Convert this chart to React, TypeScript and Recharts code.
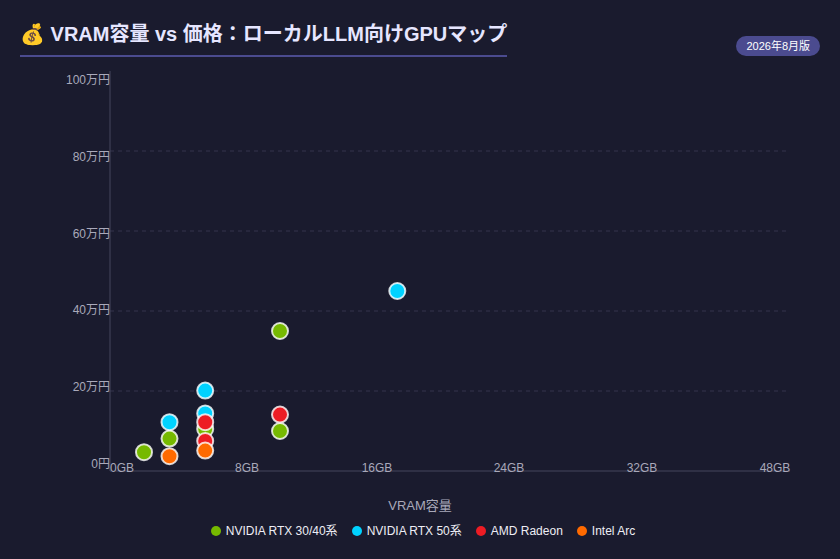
import { ScatterChart, Scatter, CartesianGrid, XAxis, YAxis, Legend } from "recharts";

// x = position on the VRAM axis (label slots are 8 units apart), y = price in 万円
const rtx3040Vram = [2.0, 3.5, 5.6, 10, 10];
const rtx3040Price = [4.7, 8.1, 10.5, 35, 10];
const rtx50Vram = [3.5, 5.6, 5.6, 16.9];
const rtx50Price = [12.2, 20.1, 14.4, 45];
const radeonVram = [5.6, 5.6, 10];
const radeonPrice = [12.2, 7.5, 14.1];
const arcVram = [3.5, 5.6];
const arcPrice = [3.7, 5.1];

const xTicks = [0, 8, 16, 24, 32, 40];
const xTickLabels = ["0GB", "8GB", "16GB", "24GB", "32GB", "48GB"];
const yTicks = [0, 20, 40, 60, 80, 100];
const yTickLabels = ["0円", "20万円", "40万円", "60万円", "80万円", "100万円"];

const toPoints = (xs: number[], ys: number[]) => xs.map((x, i) => ({ vram: x, price: ys[i] }));

const series = [
  { name: "NVIDIA RTX 30/40系", color: "#76b900", data: toPoints(rtx3040Vram, rtx3040Price) },
  { name: "NVIDIA RTX 50系", color: "#00d2ff", data: toPoints(rtx50Vram, rtx50Price) },
  { name: "AMD Radeon", color: "#ed1c24", data: toPoints(radeonVram, radeonPrice) },
  { name: "Intel Arc", color: "#ff6a00", data: toPoints(arcVram, arcPrice) },
];

const font = "'Liberation Sans', 'Noto Sans CJK JP', sans-serif";

// labels sit a little inside the ends, like a space-between row
const xLabelShift = [12, 1, -5, -9, -12, -15];

const XTick = (props: any) => {
  const i = xTicks.indexOf(props.payload.value);
  return (
    <text x={props.x + xLabelShift[i]} y={props.y + 1} textAnchor="middle" fill="#a9a9ba" fontSize={12} fontFamily={font}>
      {xTickLabels[i]}
    </text>
  );
};

const YTick = (props: any) => {
  const v = props.payload.value;
  const i = yTicks.indexOf(v);
  return (
    <text x={props.x} y={props.y + 9 - 16 * (1 - v / 100)} textAnchor="end" dominantBaseline="central" fill="#a9a9ba" fontSize={12} fontFamily={font}>
      {yTickLabels[i]}
    </text>
  );
};

const Dot = (props: any) => (
  <circle cx={props.cx} cy={props.cy} r={8} fill={props.fill} stroke="#ffffff" strokeOpacity={0.8} strokeWidth={2} />
);

export default function App() {
  return (
    <div style={{ position: "relative", width: 840, height: 559, background: "#1a1b2e", overflow: "hidden" }}>
      <style>{`body { margin: 0; background: #1a1b2e; }`}</style>
      <div
        style={{
          position: "absolute",
          left: 20,
          top: 19,
          color: "#e6e6ff",
          fontFamily: font,
          fontWeight: 700,
          fontSize: 20,
          lineHeight: "30px",
          paddingBottom: 6,
          borderBottom: "2px solid #4b4b8f",
        }}
      >
        💰 VRAM容量 vs 価格：ローカルLLM向けGPUマップ
      </div>
      <div
        style={{
          position: "absolute",
          right: 20,
          top: 36,
          height: 20,
          lineHeight: "20px",
          padding: "0 10px",
          borderRadius: 10,
          background: "#4b4b8f",
          color: "#ffffff",
          fontFamily: font,
          fontSize: 11,
        }}
      >
        2026年8月版
      </div>
      <ScatterChart width={840} height={559} margin={{ top: 71, right: 50, bottom: 40, left: 0 }} style={{ position: "absolute", left: 0, top: 0 }}>
        <CartesianGrid stroke="#34354c" strokeDasharray="4 4" vertical={false} horizontalValues={[20, 40, 60, 80]} />
        <XAxis
          type="number"
          dataKey="vram"
          domain={[0, 40]}
          ticks={xTicks}
          height={30}
          tick={<XTick />}
          tickLine={false}
          tickSize={0}
          tickMargin={0}
          axisLine={{ stroke: "#45465c" }}
        />
        <YAxis
          type="number"
          dataKey="price"
          domain={[0, 100]}
          ticks={yTicks}
          width={110}
          tick={<YTick />}
          tickLine={false}
          tickSize={0}
          tickMargin={0}
          axisLine={{ stroke: "#45465c" }}
        />
        <Legend
          verticalAlign="bottom"
          iconType="circle"
          iconSize={10}
          itemSorter={(item: any) => series.findIndex((s) => s.name === item.value)}
          wrapperStyle={{ position: "absolute", top: 521, left: 10, width: 840 }}
          formatter={(value: string) => (
            <span style={{ color: "#eeeef5", fontSize: 12, fontFamily: font, marginLeft: 1, marginRight: 4 }}>{value}</span>
          )}
        />
        {series.map((s) => (
          <Scatter key={s.name} name={s.name} data={s.data} fill={s.color} shape={<Dot />} isAnimationActive={false} />
        ))}
      </ScatterChart>
      <div
        style={{
          position: "absolute",
          top: 495,
          left: 0,
          width: 840,
          textAlign: "center",
          color: "#a9a9ba",
          fontFamily: font,
          fontSize: 13,
        }}
      >
        VRAM容量
      </div>
    </div>
  );
}
